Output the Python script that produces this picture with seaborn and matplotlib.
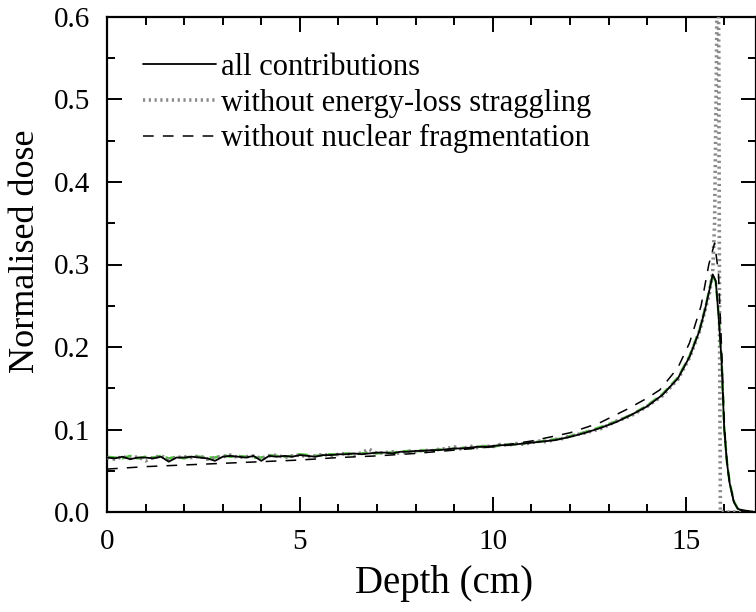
import numpy as np
import pandas as pd
import matplotlib
matplotlib.use("Agg")
import matplotlib.pyplot as plt
import seaborn as sns
from matplotlib.ticker import MultipleLocator

# ---------------- data ----------------
plateau_depth = [round(0.2 * i, 1) for i in range(61)]  # 0.0 .. 12.0 cm
tail_depth = [12.4, 12.8, 13.2, 13.6, 14.0, 14.4, 14.8, 15.1, 15.36, 15.5, 15.62,
              15.7, 15.78, 15.85, 15.93, 16.0, 16.07, 16.14, 16.25, 16.35, 16.5, 16.8]

all_plateau = [0.066, 0.065, 0.067, 0.064, 0.066, 0.066, 0.065, 0.067, 0.061, 0.066,
               0.066, 0.067, 0.066, 0.065, 0.062, 0.067, 0.068, 0.067, 0.066, 0.068,
               0.062, 0.068, 0.067, 0.068, 0.067, 0.069, 0.068, 0.067, 0.069, 0.069,
               0.070, 0.070, 0.071, 0.070, 0.071, 0.072, 0.072, 0.071, 0.073, 0.073,
               0.074, 0.074, 0.075, 0.075, 0.076, 0.077, 0.077, 0.078, 0.079, 0.079,
               0.080, 0.081, 0.081, 0.082, 0.083, 0.084, 0.085, 0.086, 0.087, 0.089,
               0.091]
all_tail = [0.096, 0.102, 0.109, 0.118, 0.128, 0.142, 0.162, 0.188, 0.220, 0.245, 0.270,
            0.288, 0.280, 0.240, 0.184, 0.100, 0.060, 0.035, 0.012, 0.004, 0.001, 0.0]

green_plateau = [0.067, 0.066, 0.065, 0.068, 0.065, 0.067, 0.066, 0.068, 0.065, 0.067,
                 0.065, 0.068, 0.067, 0.066, 0.066, 0.069, 0.067, 0.068, 0.067, 0.066,
                 0.066, 0.069, 0.068, 0.067, 0.068, 0.070, 0.069, 0.068, 0.069, 0.070,
                 0.069, 0.071, 0.070, 0.071, 0.072, 0.071, 0.072, 0.072, 0.073, 0.074,
                 0.073, 0.075, 0.074, 0.076, 0.075, 0.077, 0.078, 0.077, 0.079, 0.080,
                 0.079, 0.081, 0.082, 0.082, 0.083, 0.085, 0.085, 0.087, 0.088, 0.089,
                 0.092]
green_tail = [0.097, 0.103, 0.110, 0.118, 0.129, 0.143, 0.163, 0.189, 0.221, 0.246, 0.271,
              0.287, 0.279, 0.242, 0.186, 0.102, 0.061, 0.036, 0.013, 0.004, 0.001, 0.0]

nostrag_plateau = [0.066, 0.064, 0.067, 0.065, 0.067, 0.062, 0.066, 0.068, 0.064, 0.066,
                   0.067, 0.066, 0.068, 0.064, 0.066, 0.067, 0.069, 0.066, 0.067, 0.068,
                   0.065, 0.068, 0.069, 0.066, 0.068, 0.069, 0.067, 0.068, 0.070, 0.068,
                   0.070, 0.071, 0.069, 0.072, 0.076, 0.071, 0.072, 0.073, 0.071, 0.074,
                   0.073, 0.075, 0.074, 0.076, 0.077, 0.079, 0.076, 0.080, 0.078, 0.080,
                   0.079, 0.082, 0.081, 0.083, 0.082, 0.084, 0.086, 0.085, 0.088, 0.089,
                   0.092]
nostrag_tail_depth = [12.4, 12.8, 13.2, 13.6, 14.0, 14.4, 14.8, 15.1, 15.36, 15.5, 15.62,
                      15.7, 15.75, 15.8, 15.83, 15.86, 15.88, 15.9, 16.2, 16.8]
nostrag_tail = [0.096, 0.101, 0.110, 0.117, 0.128, 0.141, 0.161, 0.187, 0.219, 0.244, 0.266,
                0.290, 0.350, 0.550, 0.750, 0.550, 0.200, 0.0, 0.0, 0.0]

nofrag_depth = [0.0, 1.0, 2.0, 3.0, 4.0, 5.0, 6.0, 7.0, 8.0, 9.0, 10.0, 11.0, 12.0,
                12.77, 13.5, 14.0, 14.33, 14.8, 15.1, 15.4, 15.6, 15.75, 15.85, 15.93,
                16.0, 16.07, 16.14, 16.25, 16.4, 16.8]
nofrag_dose = [0.052, 0.055, 0.057, 0.059, 0.061, 0.063, 0.066, 0.068, 0.071, 0.075, 0.079,
               0.086, 0.096, 0.108, 0.125, 0.138, 0.148, 0.175, 0.205, 0.250, 0.300, 0.326,
               0.290, 0.200, 0.110, 0.060, 0.035, 0.012, 0.003, 0.0]

# ---------------- styling ----------------
sns.set_style("ticks", {"axes.edgecolor": "black", "xtick.color": "black",
                        "ytick.color": "black", "text.color": "black",
                        "axes.labelcolor": "black"})
plt.rcParams['font.family'] = ['Liberation Serif', 'DejaVu Serif']

fig = plt.figure(figsize=(7.56, 6.12), dpi=100)
ax = fig.add_axes([107 / 756, 1 - 512 / 612, 1 - 107 / 756 - 0.0005, (512 - 17) / 612])

df_all = pd.DataFrame({"x": plateau_depth + tail_depth, "y": all_plateau + all_tail})
df_green = pd.DataFrame({"x": plateau_depth + tail_depth, "y": green_plateau + green_tail})
df_ns = pd.DataFrame({"x": plateau_depth + nostrag_tail_depth, "y": nostrag_plateau + nostrag_tail})
df_nf = pd.DataFrame({"x": nofrag_depth, "y": nofrag_dose})

sns.lineplot(data=df_green, x="x", y="y", ax=ax, color="#4cc23a", lw=1.8,
             linestyle=(0, (4, 2)), sort=False, estimator=None, zorder=2)
sns.lineplot(data=df_ns, x="x", y="y", ax=ax, color="#8a8a8a", lw=2.6,
             linestyle=(0, (0.6, 1.0)), sort=False, estimator=None, zorder=3,
             label="without energy-loss straggling")
sns.lineplot(data=df_nf, x="x", y="y", ax=ax, color="black", lw=1.1,
             linestyle=(0, (7, 6)), sort=False, estimator=None, zorder=4,
             label="without nuclear fragmentation")
sns.lineplot(data=df_all, x="x", y="y", ax=ax, color="black", lw=1.3,
             sort=False, estimator=None, zorder=5, label="all contributions")

ax.set_xlim(0, (756 - 107) / 38.6)
ax.set_ylim(0, 0.6)
ax.xaxis.set_major_locator(MultipleLocator(5))
ax.xaxis.set_minor_locator(MultipleLocator(1))
ax.yaxis.set_major_locator(MultipleLocator(0.1))
ax.yaxis.set_minor_locator(MultipleLocator(0.05))
ax.yaxis.set_major_formatter(matplotlib.ticker.FormatStrFormatter('%.1f'))
ax.tick_params(which='both', direction='in', top=True, right=True, width=1.4,
               labelsize=21, colors='black')
ax.tick_params(axis='x', pad=12)
ax.tick_params(axis='y', pad=12)
ax.tick_params(which='major', length=11)
ax.tick_params(which='minor', length=6)
for s in ax.spines.values():
    s.set_linewidth(1.6)
    s.set_color('black')

ax.set_xlabel("Depth (cm)", fontsize=28, color='black')
ax.set_ylabel("Normalised dose", fontsize=26, color='black')
ax.xaxis.set_label_coords(0.519, -0.108)
ax.yaxis.set_label_coords(-0.10, 0.527)

handles, labels = ax.get_legend_handles_labels()
order = [labels.index("all contributions"), labels.index("without energy-loss straggling"),
         labels.index("without nuclear fragmentation")]
leg = ax.legend([handles[i] for i in order], [labels[i] for i in order],
                loc="upper left", bbox_to_anchor=(36 / 649, 1 - 36 / 495), frameon=False,
                fontsize=22, handlelength=2.4, handletextpad=0.15, labelspacing=0.22,
                borderaxespad=0.0, borderpad=0.0, labelcolor='black')

fig.savefig("out.png", dpi=100)
